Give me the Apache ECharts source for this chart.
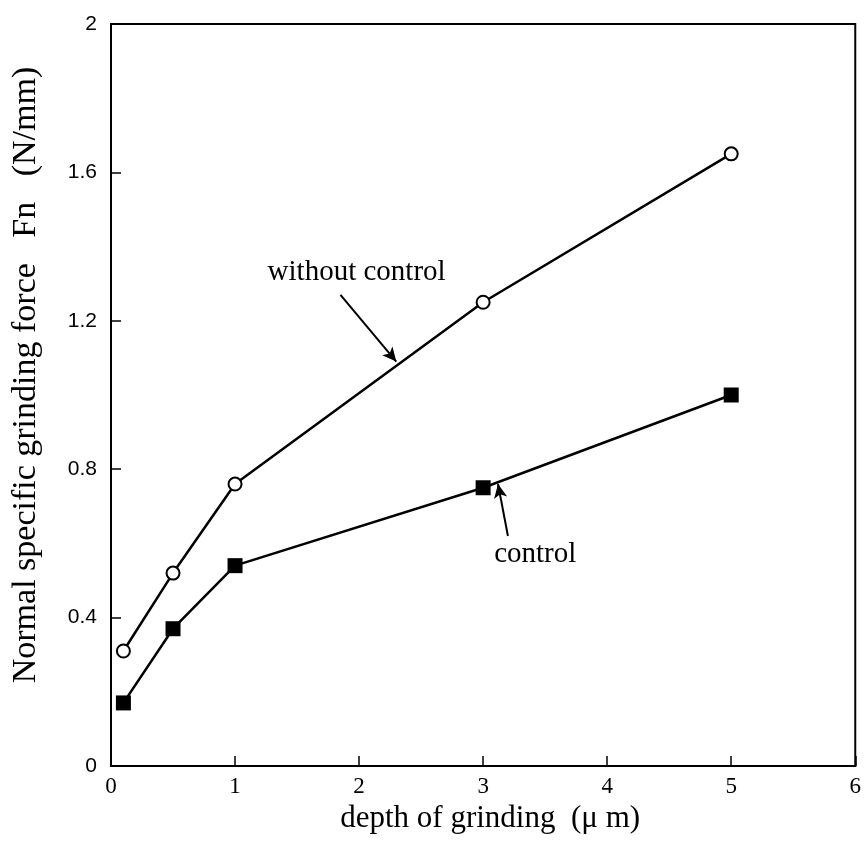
<!DOCTYPE html>
<html>
<head>
<meta charset="utf-8">
<script src="https://cdn.jsdelivr.net/npm/echarts@6/dist/echarts.min.js"></script>
<style>
  html, body { margin: 0; padding: 0; background: #fff; }
  #chart { width: 864px; height: 848px; }
</style>
</head>
<body>
<div id="chart"></div>
<script>
// depth of grinding (um)
const depth = [0.1, 0.5, 1, 3, 5];
// normal specific grinding force Fn (N/mm)
const withoutControl = [0.31, 0.52, 0.76, 1.25, 1.65];
const withControl = [0.17, 0.37, 0.54, 0.75, 1.0];

const xTicks = [0, 1, 2, 3, 4, 5, 6];
const yTicks = [0, 0.4, 0.8, 1.2, 1.6, 2];

const serif = '"Liberation Serif", "DejaVu Serif", serif';
const sans = '"Liberation Sans", Arial, sans-serif';

function pairs(xs, ys) {
    return xs.map((x, i) => [x, ys[i]]);
}

const chart = echarts.init(document.getElementById('chart'));

const option = {
    animation: false,
    backgroundColor: '#fff',
    grid: {
        show: true,
        left: 111,
        right: 7,
        top: 24,
        bottom: 82,
        borderColor: '#000',
        borderWidth: 2,
        backgroundColor: 'transparent'
    },
    xAxis: {
        type: 'value',
        min: 0,
        max: 6,
        interval: 1,
        name: 'depth of grinding  (\u03bc m)',
        nameLocation: 'middle',
        nameGap: 17,
        nameTextStyle: { fontFamily: serif, fontSize: 31, color: '#000', padding: [0, 0, 0, 14] },
        axisLine: { show: true, lineStyle: { color: '#000', width: 2 } },
        axisTick: { show: true, inside: true, length: 10, lineStyle: { color: '#000', width: 1.5 } },
        axisLabel: {
            margin: 9,
            fontFamily: serif,
            fontSize: 23,
            color: '#000',
            formatter: v => xTicks.includes(v) ? String(v) : ''
        },
        splitLine: { show: false }
    },
    yAxis: {
        type: 'value',
        min: 0,
        max: 2,
        interval: 0.4,
        name: 'Normal specific grinding force   Fn   (N/mm)',
        nameLocation: 'middle',
        nameGap: 68,
        nameTextStyle: { fontFamily: serif, fontSize: 34, color: '#000', padding: [0, 0, 0, 40] },
        axisLine: { show: true, lineStyle: { color: '#000', width: 2 } },
        axisTick: { show: true, inside: true, length: 10, lineStyle: { color: '#000', width: 1.5 } },
        axisLabel: {
            margin: 14,
            fontFamily: sans,
            fontSize: 21,
            color: '#000',
            formatter: v => {
                const t = yTicks.find(k => Math.abs(k - v) < 1e-9);
                return t === undefined ? '' : String(t);
            }
        },
        splitLine: { show: false }
    },
    series: [
        {
            name: 'without control',
            type: 'line',
            data: pairs(depth, withoutControl),
            symbol: 'circle',
            symbolSize: 13,
            z: 3,
            lineStyle: { color: '#000', width: 2.5 },
            itemStyle: { color: '#fff', borderColor: '#000', borderWidth: 2 },
            markLine: {
                silent: true,
                symbol: ['none', 'arrow'],
                symbolSize: [10, 14],
                label: { show: false },
                lineStyle: { color: '#000', width: 2, type: 'solid' },
                data: [[{ coord: [1.85, 1.27] }, { coord: [2.3, 1.09] }]]
            },
            markPoint: {
                silent: true,
                symbol: 'rect',
                symbolSize: 1,
                itemStyle: { color: 'transparent' },
                label: {
                    show: true,
                    position: 'inside',
                    fontFamily: serif,
                    fontSize: 29,
                    color: '#000',
                    formatter: '{b}'
                },
                data: [{ name: 'without control', coord: [1.98, 1.33] }]
            }
        },
        {
            name: 'control',
            type: 'line',
            data: pairs(depth, withControl),
            symbol: 'rect',
            symbolSize: 15,
            z: 3,
            lineStyle: { color: '#000', width: 2.5 },
            itemStyle: { color: '#000' },
            markLine: {
                silent: true,
                symbol: ['none', 'arrow'],
                symbolSize: [10, 14],
                label: { show: false },
                lineStyle: { color: '#000', width: 2, type: 'solid' },
                data: [[{ coord: [3.2, 0.62] }, { coord: [3.12, 0.76] }]]
            },
            markPoint: {
                silent: true,
                symbol: 'rect',
                symbolSize: 1,
                itemStyle: { color: 'transparent' },
                label: {
                    show: true,
                    position: 'inside',
                    fontFamily: serif,
                    fontSize: 29,
                    color: '#000',
                    formatter: '{b}'
                },
                data: [{ name: 'control', coord: [3.42, 0.57] }]
            }
        }
    ]
};

chart.setOption(option);
</script>
</body>
</html>
